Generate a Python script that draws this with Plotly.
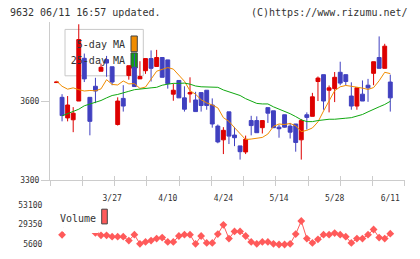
import plotly.graph_objects as go

# ---------------- data ----------------
day_index = list(range(61))
tick_index = [10, 20, 30, 40, 50, 60]
tick_labels = ['3/27', '4/10', '4/24', '5/14', '5/28', '6/11']

opens = [3671, 3615, 3537, 3530, 3601, 3763, 3615, 3657, 3714, 3758,
         3731, 3512, 3611, 3698, 3729, 3685, 3716, 3762, 3732, 3766,
         3757, 3627, 3679, 3613, 3628, 3605, 3633, 3642, 3586, 3506,
         3454, 3560, 3472, 3431, 3408, 3527, 3527, 3500, 3576, 3564,
         3502, 3549, 3506, 3514, 3454, 3549, 3543, 3675, 3701, 3642,
         3648, 3710, 3701, 3620, 3582, 3627, 3661, 3706, 3766, 3725,
         3673]
highs = [3673, 3627, 3620, 3578, 3892, 3781, 3615, 3689, 3743, 3772,
         3731, 3615, 3661, 3735, 3780, 3752, 3762, 3793, 3795, 3766,
         3757, 3667, 3679, 3657, 3691, 3636, 3633, 3642, 3611, 3512,
         3502, 3560, 3503, 3431, 3470, 3545, 3543, 3527, 3576, 3564,
         3510, 3549, 3518, 3514, 3533, 3558, 3632, 3694, 3701, 3660,
         3711, 3750, 3701, 3672, 3651, 3679, 3685, 3750, 3846, 3818,
         3701]
lows = [3671, 3524, 3524, 3483, 3601, 3673, 3471, 3593, 3714, 3693,
        3661, 3508, 3561, 3682, 3656, 3685, 3704, 3675, 3732, 3691,
        3648, 3602, 3613, 3561, 3595, 3561, 3561, 3568, 3500, 3441,
        3400, 3438, 3430, 3379, 3400, 3471, 3481, 3478, 3518, 3500,
        3462, 3500, 3459, 3409, 3379, 3493, 3543, 3601, 3568, 3558,
        3597, 3661, 3661, 3568, 3568, 3601, 3598, 3661, 3725, 3725,
        3561]
closes = [3673, 3546, 3586, 3555, 3834, 3685, 3524, 3639, 3729, 3745,
          3673, 3601, 3582, 3735, 3656, 3694, 3762, 3725, 3766, 3691,
          3667, 3642, 3613, 3570, 3633, 3561, 3584, 3584, 3514, 3446,
          3490, 3468, 3462, 3409, 3456, 3508, 3481, 3527, 3555, 3500,
          3496, 3502, 3483, 3444, 3527, 3539, 3617, 3688, 3601, 3651,
          3691, 3669, 3675, 3582, 3651, 3601, 3651, 3750, 3725, 3809,
          3613]
ma5 = [3677, 3657, 3646, 3651, 3644, 3639, 3641, 3640, 3647, 3682,
       3664, 3662, 3677, 3666, 3667, 3649, 3654, 3686, 3714, 3721,
       3728, 3722, 3698, 3676, 3640, 3627, 3606, 3594, 3586, 3575,
       3538, 3524, 3500, 3476, 3455, 3457, 3461, 3463, 3476, 3505,
       3514, 3512, 3516, 3507, 3485, 3490, 3499, 3522, 3563, 3600,
       3640, 3655, 3660, 3657, 3654, 3650, 3645, 3652, 3678, 3710,
       3705]
ma25 = [None, 3545, 3553, 3562, 3570, 3583, 3590, 3596, 3603, 3613,
        3622, 3626, 3631, 3638, 3644, 3647, 3650, 3651, 3653, 3661,
        3665, 3668, 3668, 3669, 3665, 3658, 3655, 3654, 3654, 3653,
        3643, 3635, 3629, 3622, 3610, 3601, 3592, 3590, 3590, 3579,
        3571, 3564, 3553, 3542, 3530, 3523, 3523, 3527, 3530, 3532,
        3532, 3533, 3536, 3538, 3543, 3550, 3560, 3568, 3579, 3588,
        3600]
volume = [None, 16900, 26000, 27000, 45000, 32000, 28000, 19300, 16300, 16300,
          14700, 14700, 14700, 10000, 17100, 6000, 8300, 10000, 12400, 13600,
          8300, 8300, 15500, 17100, 17100, 6000, 15500, 7100, 7100, 17800,
          29000, 12400, 21000, 21000, 15500, 8300, 6000, 8300, 8300, 6000,
          5200, 5200, 6000, 17800, 33700, 12400, 7100, 11500, 17100, 17100,
          19000, 17100, 14700, 7100, 12400, 12400, 17100, 23400, 13600, 12400,
          18300]
price_ticks = [3300, 3600]
volume_ticks = [5600, 29350, 53100]
volume_tick_text = ['5600', '29350', '53100']

# ---------------- layout helpers ----------------
W, H = 420, 259
X_RANGE = [-1.168, 62.646]
Y_RANGE = [3300, 3900]
V_RANGE = [850, 57850]
PX_L, PX_R = 50, 405
PY_TOP, PY_BOT = 22.6, 184
VPY_TOP, VPY_BOT = 205, 253

def fx(px):
    return px / W

def fy(py):
    return 1 - py / H

def px_to_idx(px):
    return X_RANGE[0] + (px - PX_L) / (PX_R - PX_L) * (X_RANGE[1] - X_RANGE[0])

def py_to_price(py):
    return Y_RANGE[0] + (PY_BOT - py) / (PY_BOT - PY_TOP) * (Y_RANGE[1] - Y_RANGE[0])

MONO = 'DejaVu Sans Mono'
TXT = '#333333'
RED = '#dd0000'
BLUE = '#4040c0'
ORANGE = '#f08c00'
GREEN = '#10a810'
VOLC = '#ff5a5a'
GRAY = '#cccccc'

fig = go.Figure()

# legend text drawn underneath the candles
fig.add_trace(go.Scatter(
    x=[px_to_idx(125), px_to_idx(125)],
    y=[py_to_price(46), py_to_price(62.7)],
    text=['5-day MA', '25-day MA'], mode='text', textposition='middle left',
    textfont=dict(family=MONO, size=10, color=TXT),
    hoverinfo='skip', showlegend=False, xaxis='x', yaxis='y'))

fig.add_trace(go.Candlestick(
    x=day_index, open=opens, high=highs, low=lows, close=closes,
    increasing=dict(line=dict(color=RED, width=1), fillcolor=RED),
    decreasing=dict(line=dict(color=BLUE, width=1), fillcolor=BLUE),
    whiskerwidth=0, hoverinfo='skip', showlegend=False,
    xaxis='x', yaxis='y'))

fig.add_trace(go.Scatter(x=day_index, y=ma5, mode='lines',
                         line=dict(color=ORANGE, width=1),
                         hoverinfo='skip', showlegend=False,
                         xaxis='x', yaxis='y'))
fig.add_trace(go.Scatter(x=day_index, y=ma25, mode='lines',
                         line=dict(color=GREEN, width=1),
                         hoverinfo='skip', showlegend=False,
                         xaxis='x', yaxis='y'))

fig.add_trace(go.Scatter(x=day_index, y=volume, mode='lines+markers',
                         line=dict(color=VOLC, width=1),
                         marker=dict(symbol='diamond', size=6, color=VOLC),
                         connectgaps=False, cliponaxis=False,
                         hoverinfo='skip', showlegend=False,
                         xaxis='x2', yaxis='y2'))

# dummy trace for the crossing tick overlay axis
fig.add_trace(go.Scatter(x=[None], y=[None], mode='markers', showlegend=False,
                         hoverinfo='skip', xaxis='x3', yaxis='y'))

xdom = [fx(PX_L), fx(PX_R)]
fig.update_layout(
    width=W, height=H,
    margin=dict(l=0, r=0, t=0, b=0),
    paper_bgcolor='white', plot_bgcolor='white',
    boxgap=0.3, boxgroupgap=0,
    showlegend=False,
    xaxis=dict(domain=xdom, range=X_RANGE, anchor='y',
               tickmode='array', tickvals=tick_index, ticktext=tick_labels,
               ticks='outside', ticklen=10, tickcolor='rgba(0,0,0,0)',
               tickfont=dict(family=MONO, size=8, color=TXT),
               showline=True, linecolor=GRAY, linewidth=1,
               showgrid=False, zeroline=False,
               minor=dict(tick0=-1.168, dtick=5.8, ticks='outside',
                          ticklen=5, tickcolor=GRAY, showgrid=False),
               rangeslider=dict(visible=False), fixedrange=True),
    xaxis3=dict(domain=xdom, range=X_RANGE, anchor='y', overlaying='x',
                tickmode='linear', tick0=-1.168, dtick=5.8,
                ticks='inside', ticklen=4, tickcolor=GRAY,
                showticklabels=False, showline=False, showgrid=False,
                zeroline=False, fixedrange=True),
    yaxis=dict(domain=[fy(PY_BOT), fy(PY_TOP)], range=Y_RANGE, anchor='x',
               tickmode='array', tickvals=price_ticks,
               ticks='outside', ticklen=8, tickcolor=GRAY,
               tickfont=dict(family=MONO, size=8, color=TXT),
               showline=True, linecolor=GRAY, linewidth=1,
               showgrid=False, zeroline=False, fixedrange=True),
    xaxis2=dict(domain=xdom, range=X_RANGE, anchor='y2',
                showticklabels=False, ticks='', showline=False,
                showgrid=False, zeroline=False, fixedrange=True),
    yaxis2=dict(domain=[fy(VPY_BOT), fy(VPY_TOP)], range=V_RANGE, anchor='x2',
                tickmode='array', tickvals=volume_ticks, ticktext=volume_tick_text,
                ticks='outside', ticklen=5, tickcolor='rgba(0,0,0,0)',
                tickfont=dict(family=MONO, size=8, color=TXT),
                showline=False, showgrid=False, zeroline=False,
                fixedrange=True),
)

shapes = [
    # main legend box (behind candles)
    dict(type='rect', xref='paper', yref='paper', layer='below',
         x0=fx(65), x1=fx(143.3), y0=fy(77.3), y1=fy(30),
         line=dict(color='#c8c8c8', width=1), fillcolor='white'),
    dict(type='rect', xref='paper', yref='paper', layer='below',
         x0=fx(131), x1=fx(137.3), y0=fy(52.7), y1=fy(36.7),
         line=dict(color='#444444', width=1), fillcolor=ORANGE),
    dict(type='rect', xref='paper', yref='paper', layer='below',
         x0=fx(131), x1=fx(137.3), y0=fy(69.3), y1=fy(54),
         line=dict(color='#444444', width=1), fillcolor='#10a010'),
    # volume legend background (covers part of the volume line)
    dict(type='rect', xref='paper', yref='paper', layer='above',
         x0=fx(64), x1=fx(98.5), y0=fy(237.7), y1=fy(205),
         line=dict(width=0), fillcolor='white'),
    dict(type='rect', xref='paper', yref='paper', layer='above',
         x0=fx(101.7), x1=fx(107.3), y0=fy(228.3), y1=fy(213.3),
         line=dict(color='#444444', width=1), fillcolor=VOLC),
]
fig.update_layout(shapes=shapes)

annotations = [
    dict(text='9632 06/11 16:57 updated.', xref='paper', yref='paper',
         x=fx(8), y=fy(13), xanchor='left', yanchor='middle', showarrow=False,
         font=dict(family=MONO, size=10, color=TXT)),
    dict(text='(C)https://www.rizumu.net/', xref='paper', yref='paper',
         x=fx(410), y=fy(13), xanchor='right', yanchor='middle', showarrow=False,
         font=dict(family=MONO, size=10, color=TXT)),
    dict(text='Volume', xref='paper', yref='paper',
         x=fx(58), y=fy(222.3), xanchor='left', yanchor='middle', showarrow=False,
         font=dict(family=MONO, size=10, color=TXT)),
]
fig.update_layout(annotations=annotations)

fig.write_html('out.html', config=dict(displayModeBar=False, staticPlot=True))
